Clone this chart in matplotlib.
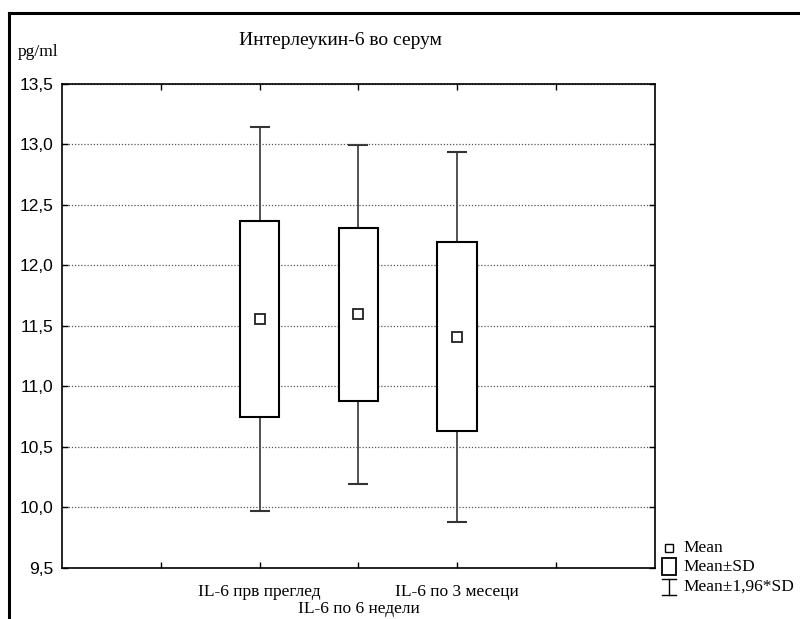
import numpy as np
import matplotlib
matplotlib.use("Agg")
import matplotlib.pyplot as plt
from matplotlib.lines import Line2D
from matplotlib.patches import Rectangle
from matplotlib.ticker import FuncFormatter

# IL-6 во серум: средна вредност и стандардна девијација по мерење
groups = ["IL-6 прв преглед", "IL-6 по 6 недели", "IL-6 по 3 месеци"]
means = [11.56, 11.595, 11.41]
sds = [0.81, 0.715, 0.78]
positions = [2, 3, 4]

means = np.array(means)
sds = np.array(sds)

serif = "Liberation Serif"
sans = "Liberation Sans"

fig = plt.figure(figsize=(8, 6.19), dpi=100)
ax = fig.add_axes([0.0775, 0.0824, 0.741, 0.782])

# Mean±1,96*SD мустаќи
ax.errorbar(positions, means, yerr=1.96 * sds, fmt="none", ecolor="#333333",
            elinewidth=1.2, capsize=7, capthick=1.5, zorder=1)
# Mean±SD кутии
ax.bar(positions, 2 * sds, bottom=means - sds, width=0.4, color="white",
       edgecolor="black", linewidth=1.5, zorder=2)
# Mean
ax.plot(positions, means, linestyle="none", marker="s", markersize=6.5,
        markerfacecolor="white", markeredgecolor="#222222", markeredgewidth=1.3, zorder=3)

ax.set_xlim(0, 6)
ax.set_ylim(9.5, 13.5)
ax.set_xticks([1, 2, 3, 4, 5])
ax.set_xticklabels([])
ax.set_yticks(np.arange(9.5, 13.51, 0.5))
ax.yaxis.set_major_formatter(FuncFormatter(lambda v, p: f"{v:.1f}".replace(".", ",")))
ax.tick_params(axis="both", direction="in", length=4, width=1, top=True, right=True)
ax.tick_params(axis="y", labelsize=12.5, pad=6)
for lab in ax.get_yticklabels():
    lab.set_fontfamily(sans)
ax.grid(axis="y", linestyle=(0, (1, 1.5)), color="#555555", linewidth=0.9)
for s in ax.spines.values():
    s.set_linewidth(1.2)

# натписи за групите, средниот е спуштен
for i, (x, name) in enumerate(zip(positions, groups)):
    dy = -0.05 if i % 2 == 0 else -0.085
    ax.text(x, dy, name, transform=ax.get_xaxis_transform(), ha="center", va="center",
            fontfamily=serif, fontsize=12.5)

fig.text(0.425, 0.935, "Интерлеукин-6 во серум", ha="center", va="center",
         fontfamily=serif, fontsize=14)
fig.text(0.022, 0.916, "pg/ml", ha="left", va="center", fontfamily=serif, fontsize=12.5)

# легенда
lx = 0.836
fig.add_artist(Line2D([lx], [1 - 548 / 619], marker="s", markersize=6, markerfacecolor="white",
                      markeredgecolor="black", markeredgewidth=1.0, linestyle="none"))
fig.add_artist(Rectangle((lx - 7 / 800, 1 - 575 / 619), 14 / 800, 17 / 619, facecolor="white",
                         edgecolor="black", linewidth=1.3))
wy0, wy1 = 1 - 595 / 619, 1 - 579 / 619
fig.add_artist(Line2D([lx, lx], [wy0, wy1], color="black", linewidth=1))
fig.add_artist(Line2D([lx - 7 / 800, lx + 7 / 800], [wy0, wy0], color="black", linewidth=1))
fig.add_artist(Line2D([lx - 7 / 800, lx + 7 / 800], [wy1, wy1], color="black", linewidth=1))
for yy, txt in [(548, "Mean"), (567, "Mean±SD"), (587, "Mean±1,96*SD")]:
    fig.text(0.854, 1 - yy / 619, txt, ha="left", va="center", fontfamily=serif, fontsize=12.5)

# рамка околу сликата
fig.add_artist(Line2D([9 / 800, 1.0], [1 - 13 / 619] * 2, color="black", linewidth=2.2))
fig.add_artist(Line2D([9 / 800] * 2, [1 - 13 / 619, 0.0], color="black", linewidth=2.2))

fig.savefig("out.png", dpi=100)
